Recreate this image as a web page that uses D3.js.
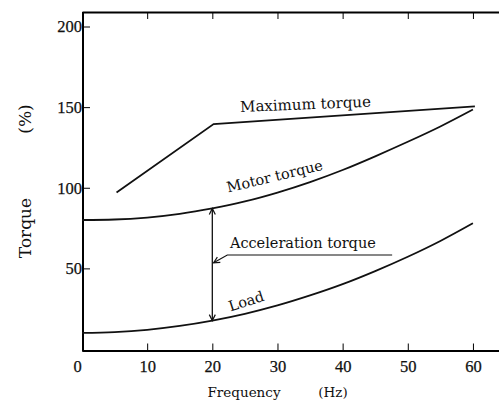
<!DOCTYPE html>
<html>
<head>
<meta charset="utf-8">
<script src="https://cdn.jsdelivr.net/npm/d3@7"></script>
<style>
  body { margin: 0; background: #fff; }
  .lbl { font-family: "DejaVu Serif", serif; fill: #111; }
  .tick text { font-family: "Liberation Serif", serif; font-size: 16.5px; fill: #111; stroke: #111; stroke-width: 0.25px; }
</style>
</head>
<body>
<div id="vis"></div>
<script>
// data
const FREQ = [0, 5, 10, 15, 20, 25, 30, 35, 40, 45, 50, 55, 60];
const MOTOR_TORQUE = [80, 80.3, 81.5, 83.8, 87.2, 91.5, 97, 103.5, 111, 119.5, 128.5, 138, 148.5];
const LOAD_TORQUE = [10, 10.5, 11.9, 14.3, 17.6, 21.8, 27, 33.2, 40.2, 48.3, 57.2, 67, 78];
const MAX_FREQ = [5.3, 20.2, 60.3];
const MAX_TORQUE = [97, 139.5, 150.5];
const X_TICKS = [0, 10, 20, 30, 40, 50, 60];
const Y_TICKS = [50, 100, 150, 200];

// frame constants
const FRAME_WIDTH = 499;
const FRAME_HEIGHT = 402;
const LEFT = 82, TOP = 12, ZERO_Y = 349;

const FRAME = d3.select("#vis")
                .append("svg")
                  .attr("width", FRAME_WIDTH)
                  .attr("height", FRAME_HEIGHT);

const X_SCALE = d3.scaleLinear().domain([0, 64]).range([LEFT, FRAME_WIDTH]);
const Y_SCALE = d3.scaleLinear().domain([0, 209]).range([ZERO_Y, TOP]);

// arrow marker
FRAME.append("defs").append("marker")
    .attr("id", "arr")
    .attr("viewBox", "-8 -5 10 10")
    .attr("markerWidth", 10).attr("markerHeight", 10)
    .attr("markerUnits", "userSpaceOnUse")
    .attr("orient", "auto-start-reverse")
  .append("path")
    .attr("d", "M-6,-3L0,0L-6,3")
    .attr("fill", "none").attr("stroke", "#111").attr("stroke-width", 1.2);

// bottom axis
const xAxis = FRAME.append("g")
    .attr("transform", "translate(0," + (ZERO_Y + 1.5) + ")")
    .call(d3.axisBottom(X_SCALE).tickValues(X_TICKS).tickSizeInner(-7).tickSizeOuter(0).tickPadding(10));
xAxis.select(".domain").attr("stroke-width", 2);
xAxis.selectAll(".tick text").attr("dx", (d) => d === 0 ? -5 : 0);
xAxis.selectAll(".tick line").filter((d) => d === 0).remove();

// top axis
const topAxis = FRAME.append("g")
    .attr("transform", "translate(0," + TOP + ")")
    .call(d3.axisTop(X_SCALE).tickValues(X_TICKS.slice(1)).tickSizeInner(-7).tickSizeOuter(0).tickFormat(""));
topAxis.select(".domain").attr("stroke-width", 2);

// left axis
const yAxis = FRAME.append("g")
    .attr("transform", "translate(" + (LEFT + 1) + ",0)")
    .call(d3.axisLeft(Y_SCALE).tickValues(Y_TICKS).tickSizeInner(-7).tickSizeOuter(0).tickPadding(1));
yAxis.select(".domain").attr("stroke-width", 2).attr("d", "M0," + TOP + "V" + (ZERO_Y + 2.5));

// curves
const line = d3.line()
    .x((d) => X_SCALE(d[0]))
    .y((d) => Y_SCALE(d[1]))
    .curve(d3.curveMonotoneX);

FRAME.append("path")
    .attr("d", line(FREQ.map((f, i) => [f, MOTOR_TORQUE[i]])))
    .attr("fill", "none").attr("stroke", "#111").attr("stroke-width", 1.8);

FRAME.append("path")
    .attr("d", line(FREQ.map((f, i) => [f, LOAD_TORQUE[i]])))
    .attr("fill", "none").attr("stroke", "#111").attr("stroke-width", 1.8);

FRAME.append("path")
    .attr("d", d3.line().x((d) => X_SCALE(d[0])).y((d) => Y_SCALE(d[1]))(MAX_FREQ.map((f, i) => [f, MAX_TORQUE[i]])))
    .attr("fill", "none").attr("stroke", "#111").attr("stroke-width", 1.8);

// acceleration torque arrow between the curves at 20 Hz
const ACC_F = 20;
const accTop = MOTOR_TORQUE[FREQ.indexOf(ACC_F)];
const accBot = LOAD_TORQUE[FREQ.indexOf(ACC_F)];
FRAME.append("line")
    .attr("x1", X_SCALE(ACC_F)).attr("x2", X_SCALE(ACC_F))
    .attr("y1", Y_SCALE(accTop)).attr("y2", Y_SCALE(accBot))
    .attr("stroke", "#111").attr("stroke-width", 1.3)
    .attr("marker-start", "url(#arr)").attr("marker-end", "url(#arr)");

// leader line
FRAME.append("path")
    .attr("d", "M" + X_SCALE(47.6) + "," + Y_SCALE(58.3) +
               "L" + X_SCALE(22.3) + "," + Y_SCALE(58.3) +
               "L" + X_SCALE(20.2) + "," + Y_SCALE(53.5))
    .attr("fill", "none").attr("stroke", "#111").attr("stroke-width", 1.2)
    .attr("marker-end", "url(#arr)");

// curve labels
function label(txt, f, v, rot, size) {
  FRAME.append("text")
      .attr("class", "lbl")
      .attr("transform", "translate(" + X_SCALE(f) + "," + Y_SCALE(v) + ") rotate(" + rot + ")")
      .attr("font-size", size + "px")
      .text(txt);
}
label("Maximum torque", 24.3, 147, -2.3, 15);
label("Motor torque", 22.4, 97, -13.5, 14.5);
label("Acceleration torque", 22.7, 62.6, 0, 14.5);
label("Load", 22.8, 23.2, -18, 14.5);

// axis titles
FRAME.append("text").attr("class", "lbl")
    .attr("transform", "translate(31,228) rotate(-90)")
    .attr("text-anchor", "middle").attr("font-size", "17px")
    .text("Torque");
FRAME.append("text").attr("class", "lbl")
    .attr("transform", "translate(31,119) rotate(-90)")
    .attr("text-anchor", "middle").attr("font-size", "17px")
    .text("(%)");
FRAME.append("text").attr("class", "lbl")
    .attr("x", 244).attr("y", 397)
    .attr("text-anchor", "middle").attr("font-size", "13.5px")
    .text("Frequency");
FRAME.append("text").attr("class", "lbl")
    .attr("x", 333).attr("y", 397)
    .attr("text-anchor", "middle").attr("font-size", "13.5px")
    .text("(Hz)");
</script>
</body>
</html>
